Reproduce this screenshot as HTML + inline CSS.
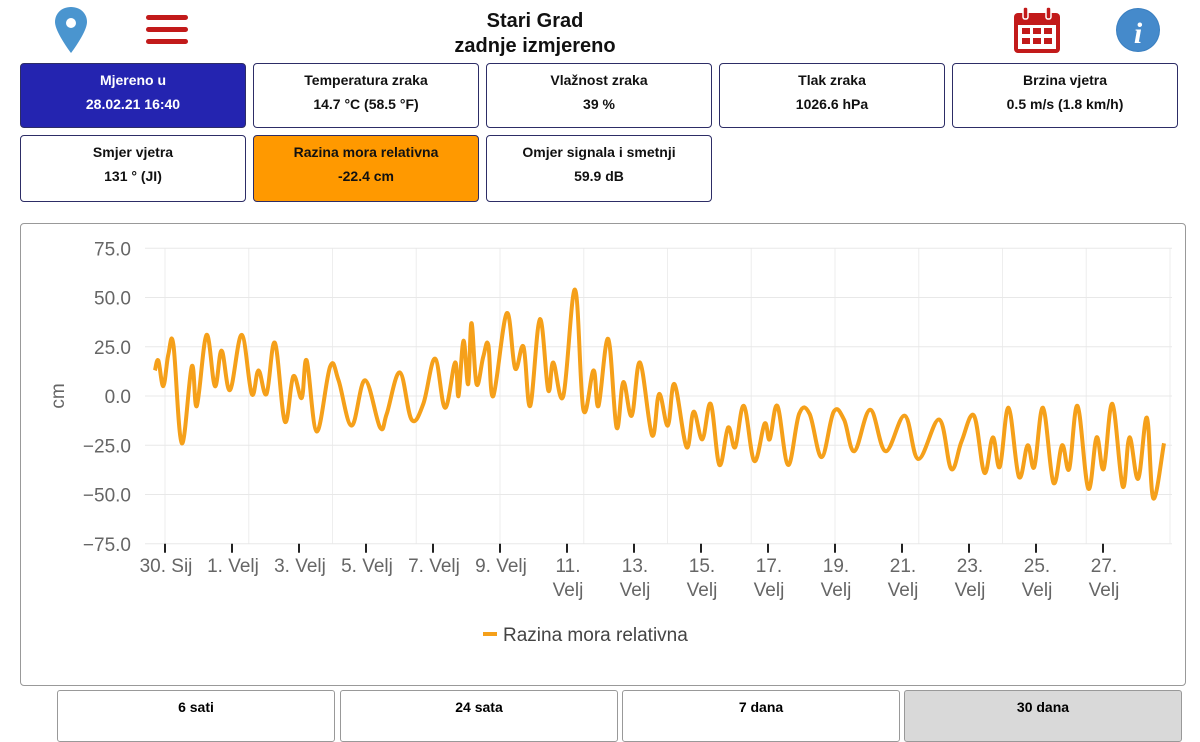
<!DOCTYPE html>
<html><head><meta charset="utf-8"><style>
body{margin:0;width:1200px;height:740px;background:#fff;font-family:"Liberation Sans",Arial,sans-serif;position:relative;overflow:hidden}
.abs{position:absolute}
.card{position:absolute;width:226px;height:65px;border:1.5px solid #2d2d66;border-radius:4px;box-sizing:border-box;text-align:center;font-weight:bold;font-size:14px;color:#111;background:#fff}
.card .l1{position:absolute;top:8px;width:100%}
.card .l2{position:absolute;top:32px;width:100%}
.btn{position:absolute;top:690px;height:52px;width:278px;border:1px solid #999;border-radius:3px;box-sizing:border-box;text-align:center;font-weight:bold;font-size:14px;padding-top:8px;background:#fff}
</style></head><body>
<svg class="abs" style="left:52px;top:5px" width="38" height="50" viewBox="0 0 38 50"><path d="M19 2C9 2 3 9 3 17c0 10 16 31 16 31s16-21 16-31C35 9 29 2 19 2z" fill="#4a95cf"/><circle cx="19" cy="18" r="5" fill="#fff"/></svg>
<svg class="abs" style="left:146px;top:14px" width="42" height="32"><rect x="0" y="1" width="42" height="5" rx="2.5" fill="#c21a1a"/><rect x="0" y="13" width="42" height="5" rx="2.5" fill="#c21a1a"/><rect x="0" y="25" width="42" height="5" rx="2.5" fill="#c21a1a"/></svg>
<div class="abs" style="left:380px;top:9px;width:310px;text-align:center;font-weight:bold;font-size:20px;line-height:25px;color:#111">Stari Grad<br>zadnje izmjereno</div>
<svg class="abs" style="left:1013px;top:6px" width="48" height="48"><rect x="1" y="7" width="46" height="40" rx="4" fill="#c21a1a"/><rect x="5" y="19" width="38" height="24" fill="#fff"/><rect x="10" y="1" width="5" height="12" rx="2" fill="#c21a1a" stroke="#fff" stroke-width="1.5"/><rect x="33" y="1" width="5" height="12" rx="2" fill="#c21a1a" stroke="#fff" stroke-width="1.5"/><g fill="#c21a1a"><rect x="9" y="22" width="8" height="6"/><rect x="20" y="22" width="8" height="6"/><rect x="31" y="22" width="8" height="6"/><rect x="9" y="32" width="8" height="6"/><rect x="20" y="32" width="8" height="6"/><rect x="31" y="32" width="8" height="6"/></g></svg>
<svg class="abs" style="left:1114px;top:6px" width="48" height="48"><circle cx="24" cy="24" r="22" fill="#3a7fc0"/><circle cx="24" cy="24" r="21" fill="#4a8fd0" opacity=".7"/><text x="24" y="37" text-anchor="middle" font-family="Liberation Serif,serif" font-style="italic" font-weight="bold" font-size="30" fill="#fff">i</text></svg>

<div class="card" style="left:20px;top:63px;background:#2424b0;color:#fff"><div class="l1">Mjereno u</div><div class="l2">28.02.21 16:40</div></div>
<div class="card" style="left:253px;top:63px"><div class="l1">Temperatura zraka</div><div class="l2">14.7 °C (58.5 °F)</div></div>
<div class="card" style="left:486px;top:63px"><div class="l1">Vlažnost zraka</div><div class="l2">39 %</div></div>
<div class="card" style="left:719px;top:63px"><div class="l1">Tlak zraka</div><div class="l2">1026.6 hPa</div></div>
<div class="card" style="left:952px;top:63px"><div class="l1">Brzina vjetra</div><div class="l2">0.5 m/s (1.8 km/h)</div></div>
<div class="card" style="left:20px;top:135px;height:67px"><div class="l1">Smjer vjetra</div><div class="l2">131 ° (JI)</div></div>
<div class="card" style="left:253px;top:135px;height:67px;background:#ff9900"><div class="l1">Razina mora relativna</div><div class="l2">-22.4 cm</div></div>
<div class="card" style="left:486px;top:135px;height:67px"><div class="l1">Omjer signala i smetnji</div><div class="l2">59.9 dB</div></div>

<div class="abs" style="left:20px;top:223px;width:1166px;height:463px;border:1.5px solid #999;border-radius:4px;box-sizing:border-box"></div>
<svg id="chart" class="abs" style="left:22px;top:241px" width="1162" height="440"></svg>

<div class="btn" style="left:57px">6 sati</div>
<div class="btn" style="left:340px">24 sata</div>
<div class="btn" style="left:622px">7 dana</div>
<div class="btn" style="left:904px;background:#d9d9d9">30 dana</div>

<script>
// days since 30 Jan 00:00
const days=[-0.30,-0.20,-0.05,0.10,0.25,0.50,0.80,0.95,1.24,1.49,1.69,1.94,2.29,2.59,2.79,3.03,3.28,3.58,3.83,4.08,4.23,4.53,4.93,5.18,5.57,5.97,6.42,6.62,7.01,7.36,7.71,8.06,8.36,8.66,8.76,8.91,9.05,9.15,9.30,9.50,9.65,9.80,10.20,10.45,10.70,10.90,11.19,11.44,11.59,11.89,12.24,12.49,12.79,12.94,13.23,13.48,13.68,13.93,14.18,14.54,14.75,15.01,15.21,15.57,15.78,16.04,16.29,16.55,16.81,17.02,17.28,17.59,17.90,18.05,18.28,18.60,18.93,19.24,19.60,19.96,20.27,20.58,21.05,21.51,22.08,22.49,23.11,23.47,23.78,24.15,24.46,24.71,24.92,25.18,25.49,25.75,25.95,26.21,26.52,26.78,26.99,27.24,27.56,27.81,28.02,28.28,28.59,28.79,29.05,29.31,29.50,29.82];
const levels=[13,18,5,21,26,-24,15,-5,31,5,23,3,31,1,13,1,27,-13,10,-1,18,-18,15,8,-15,8,-16,-9,12,-12,-4,19,-6,17,0,28,6,37,6,20,26,0,42,14,25,-5,39,3,17,0,54,-7,13,-5,29,-16,7,-10,17,-20,1,-15,6,-26,-8,-22,-4,-35,-16,-26,-5,-33,-14,-22,-5,-35,-9,-9,-31,-8,-12,-28,-7,-28,-10,-32,-12,-37,-23,-10,-39,-21,-36,-6,-41,-25,-36,-6,-44,-25,-37,-5,-47,-21,-37,-4,-46,-21,-42,-11,-52,-24];
const yTicks=[75,50,25,0,-25,-50,-75];
const xTickDays=[0,2,4,6,8,10,12,14,16,18,20,22,24,26,28];
const xTickLabels=[["30. Sij"],["1. Velj"],["3. Velj"],["5. Velj"],["7. Velj"],["9. Velj"],["11.","Velj"],["13.","Velj"],["15.","Velj"],["17.","Velj"],["19.","Velj"],["21.","Velj"],["23.","Velj"],["25.","Velj"],["27.","Velj"]];
const OX=22,OY=241;
const X=d=>165+d*33.5-OX;
const Y=v=>396-v*1.97-OY;
const svg=document.getElementById('chart');
const NS='http://www.w3.org/2000/svg';
function mk(t,a){const e=document.createElementNS(NS,t);for(const k in a)e.setAttribute(k,a[k]);svg.appendChild(e);return e;}
for(let d=0;d<=30;d+=2.5){const g=mk('line',{x1:X(d),x2:X(d),y1:Y(75),y2:Y(-75),stroke:'#eee','stroke-width':1});

}
yTicks.forEach(v=>{const g=mk('line',{x1:145-OX,x2:1172-OX,y1:Y(v),y2:Y(v),stroke:'#e8e8e8','stroke-width':1});


const t=mk('text',{x:131-OX,y:Y(v)+7,'text-anchor':'end','font-size':'19',fill:'#666','font-family':'Liberation Sans, sans-serif'});
t.textContent=v.toFixed(1).replace('-','\u2212');

});
xTickDays.forEach((d,i)=>{const tk=mk('line',{x1:X(d),x2:X(d),y1:Y(-75),y2:Y(-75)+9,stroke:'#222','stroke-width':2});


xTickLabels[i].forEach((s,j)=>{const t=mk('text',{x:X(d)+1,y:Y(-75)+28+j*24,'text-anchor':'middle','font-size':'19',fill:'#666','font-family':'Liberation Sans, sans-serif'});
t.textContent=s;

});});
const yt=mk('text',{transform:`translate(${64-OX},${Y(0)}) rotate(-90)`,'text-anchor':'middle','font-size':'19',fill:'#666','font-family':'Liberation Sans, sans-serif'});
yt.textContent='cm';


// smooth Catmull-Rom path
const P=days.map((d,i)=>[X(d),Y(levels[i])]);
let dstr='M'+P[0][0].toFixed(1)+','+P[0][1].toFixed(1);
for(let i=0;i<P.length-1;i++){const p0=P[Math.max(0,i-1)],p1=P[i],p2=P[i+1],p3=P[Math.min(P.length-1,i+2)];
const t=0.18;
const c1=[p1[0]+(p2[0]-p0[0])*t,p1[1]+(p2[1]-p0[1])*t];
const c2=[p2[0]-(p3[0]-p1[0])*t,p2[1]-(p3[1]-p1[1])*t];
dstr+=` C${c1[0].toFixed(1)},${c1[1].toFixed(1)} ${c2[0].toFixed(1)},${c2[1].toFixed(1)} ${p2[0].toFixed(1)},${p2[1].toFixed(1)}`;}
const pl=mk('path',{d:dstr,fill:'none',stroke:'#f5a01a','stroke-width':4,'stroke-linejoin':'round'});


const ll=mk('line',{x1:483-OX,x2:497-OX,y1:634-OY,y2:634-OY,stroke:'#f5a01a','stroke-width':4});


const lt=mk('text',{x:503-OX,y:641-OY,'font-size':'19',fill:'#444','font-family':'Liberation Sans, sans-serif'});
lt.textContent='Razina mora relativna';


</script>
</body></html>
